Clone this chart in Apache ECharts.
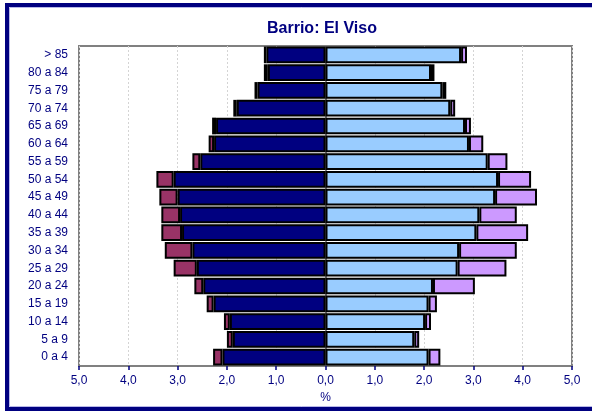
<!DOCTYPE html>
<html lang="es">
  <head>
    <meta charset="utf-8" />
    <script src="https://cdn.jsdelivr.net/npm/echarts@6/dist/echarts.min.js"></script>
    <title>Barrio: El Viso</title>
    <style>
      html, body { margin: 0; padding: 0; background: #fff; }
      #chart { width: 592px; height: 412px; }
    </style>
  </head>
  <body>
    <div id="chart"></div>
    <script>
      // grupos de edad, de arriba abajo
      var ageGroups = ['> 85', '80 a 84', '75 a 79', '70 a 74', '65 a 69', '60 a 64', '55 a 59', '50 a 54', '45 a 49',
        '40 a 44', '35 a 39', '30 a 34', '25 a 29', '20 a 24', '15 a 19', '10 a 14', '5 a 9', '0 a 4']
      // % varones (izquierda)
      var menInner = [1.20, 1.17, 1.38, 1.80, 2.22, 2.26, 2.54, 3.08, 3.00, 2.95, 2.91, 2.70, 2.61, 2.48, 2.27, 1.94, 1.88, 2.09]
      var menOuter = [0.05, 0.08, 0.06, 0.07, 0.08, 0.11, 0.16, 0.35, 0.37, 0.38, 0.42, 0.56, 0.47, 0.18, 0.14, 0.12, 0.12, 0.19]
      // % mujeres (derecha)
      var womenInner = [2.75, 2.14, 2.37, 2.53, 2.83, 2.91, 3.29, 3.50, 3.44, 3.12, 3.06, 2.71, 2.68, 2.18, 2.09, 2.02, 1.80, 2.09]
      var womenOuter = [0.12, 0.07, 0.08, 0.10, 0.12, 0.29, 0.40, 0.67, 0.85, 0.76, 1.05, 1.17, 0.99, 0.85, 0.17, 0.12, 0.10, 0.24]

      var navy = '#000080'
      var font = 'Liberation Sans, Arial, sans-serif'

      function neg (arr) {
        return arr.map(function (v) { return -v })
      }

      function barSeries (name, data, color) {
        return {
          name: name,
          type: 'bar',
          stack: 'pyramid',
          data: data,
          barCategoryGap: '6%',
          itemStyle: { color: color, borderColor: '#000', borderWidth: 2 }
        }
      }

      var chart = echarts.init(document.getElementById('chart'))
      chart.setOption({
        animation: false,
        backgroundColor: '#fff',
        title: {
          text: 'Barrio: El Viso',
          left: 317,
          top: 16,
          textAlign: 'center',
          textStyle: { color: navy, fontFamily: font, fontSize: 16, fontWeight: 'bold' }
        },
        graphic: [{
          type: 'rect',
          shape: { x: 7, y: 5, width: 620, height: 404 },
          style: { fill: 'none', stroke: navy, lineWidth: 4 },
          silent: true
        }, {
          type: 'rect',
          shape: { x: 9.5, y: 7.5, width: 620, height: 399 },
          style: { fill: 'none', stroke: '#b8b8e8', lineWidth: 1 },
          silent: true
        }],
        grid: {
          left: 79, right: 20, top: 46, bottom: 46,
          show: true, borderColor: '#808080', borderWidth: 2
        },
        xAxis: {
          type: 'value',
          min: -5,
          max: 5,
          interval: 1,
          name: '%',
          nameLocation: 'middle',
          nameGap: 23,
          nameTextStyle: { color: navy, fontFamily: font, fontSize: 12 },
          axisLine: { lineStyle: { color: navy, width: 2 } },
          axisTick: { show: true, length: 4, lineStyle: { color: navy, width: 1.5 } },
          axisLabel: {
            color: navy, fontFamily: font, fontSize: 12, margin: 9,
            formatter: function (v) { return Math.abs(v).toFixed(1).replace('.', ',') }
          },
          splitLine: { show: true, lineStyle: { color: '#d4d4d4', type: [2, 2], width: 1 } }
        },
        yAxis: {
          type: 'category',
          data: ageGroups,
          inverse: true,
          axisLine: { lineStyle: { color: '#808080', width: 2 } },
          axisTick: { show: false },
          axisLabel: { color: navy, fontFamily: font, fontSize: 12, margin: 11 }
        },
        series: [
          barSeries('Varones', neg(menInner), navy),
          barSeries('Varones ext.', neg(menOuter), '#993366'),
          barSeries('Mujeres', womenInner, '#99ccff'),
          barSeries('Mujeres ext.', womenOuter, '#cc99ff')
        ]
      })
    </script>
  </body>
</html>
